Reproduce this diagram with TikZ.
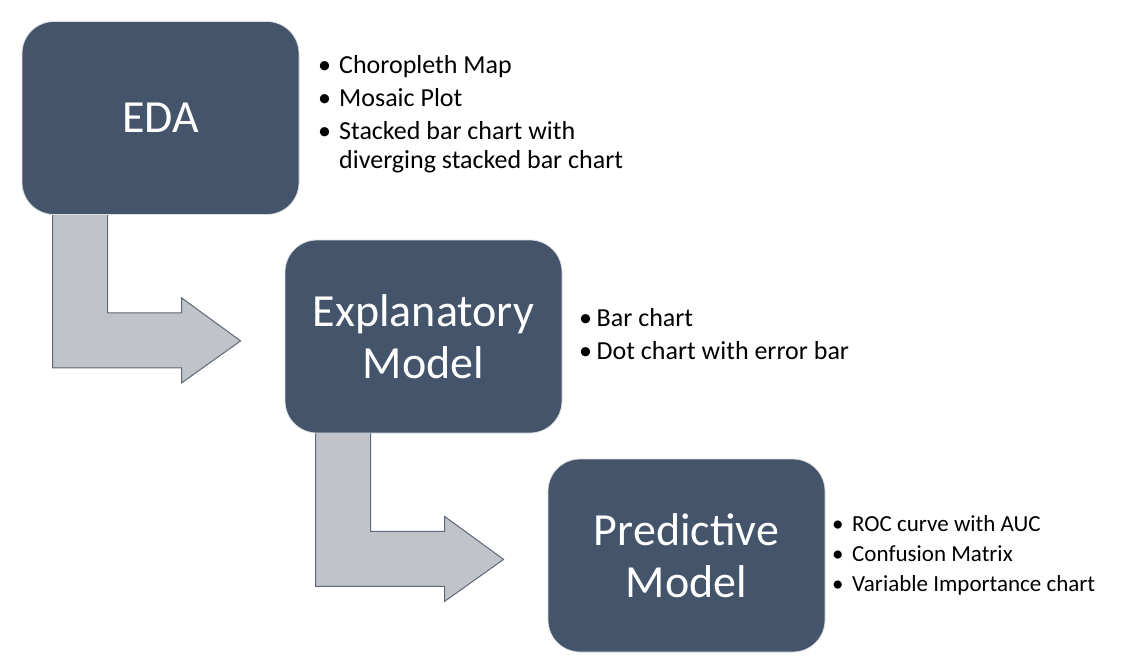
\documentclass[tikz,border=0pt]{standalone}
\usepackage{fontspec}
\setmainfont{Carlito}
\usetikzlibrary{positioning}
\definecolor{slate}{HTML}{44546A}
\definecolor{arrowgray}{HTML}{C0C3C8}
\definecolor{arrowedge}{HTML}{5E6878}
\pgfdeclarelayer{bg}
\pgfsetlayers{bg,main}
\tikzset{
	stage/.style={fill=slate, draw=white!80!slate, line width=0.8pt, rounded corners=32pt, minimum width=277pt, minimum height=193pt, inner sep=0pt, text=white, align=center, font=\fontsize{46}{52}\selectfont},
	notes/.style={anchor=west, align=left, inner sep=0pt, font=\fontsize{26}{28.5}\selectfont},
	smallnotes/.style={notes, font=\fontsize{23}{25.3}\selectfont},
	bentarrow/.style={fill=arrowgray, draw=arrowedge, line width=1pt, line join=miter}
}
\newcommand{\bul}[1]{\makebox[#1][l]{\textbullet}}
\def\lbend(#1){\draw[bentarrow, shift={(#1)}] (31,-20) -- (86,-20) -- (86,98) -- (160,98) -- (160,83) -- (219,126) -- (160,168) -- (160,153) -- (31,153) -- cycle;}

\begin{document}
\begin{tikzpicture}[x=1pt, y=-1pt]
		%%%%% START %%%%%
		\useasboundingbox (0,0) rectangle (1123,666);
		
		\node[stage] (eda) at (160.5,118) {EDA};
		\node[stage] (expl) at (423.5,336.5) {Explanatory\\Model};
		\node[stage] (pred) at (686.5,555.5) {Predictive\\Model};
		
		\begin{pgfonlayer}{bg}
			\lbend(eda.south west)
			\lbend(expl.south west)
		\end{pgfonlayer}
		
		\node[notes] (edalist) at (318,114) {\bul{21pt}Choropleth Map\\[4.5pt]\bul{21pt}Mosaic Plot\\[4.5pt]\bul{21pt}Stacked bar chart with\\\hphantom{\bul{21pt}}diverging stacked bar chart};
		\node[notes] (expllist) at (579,334.5) {\bul{17.5pt}Bar chart\\[4.5pt]\bul{17.5pt}Dot chart with error bar};
		\node[smallnotes] (predlist) at (832,555) {\bul{20pt}ROC curve with AUC\\[4.7pt]\bul{20pt}Confusion Matrix\\[4.7pt]\bul{20pt}Variable Importance chart};
		
		%%%%% END %%%%%
	\end{tikzpicture}
\end{document}
